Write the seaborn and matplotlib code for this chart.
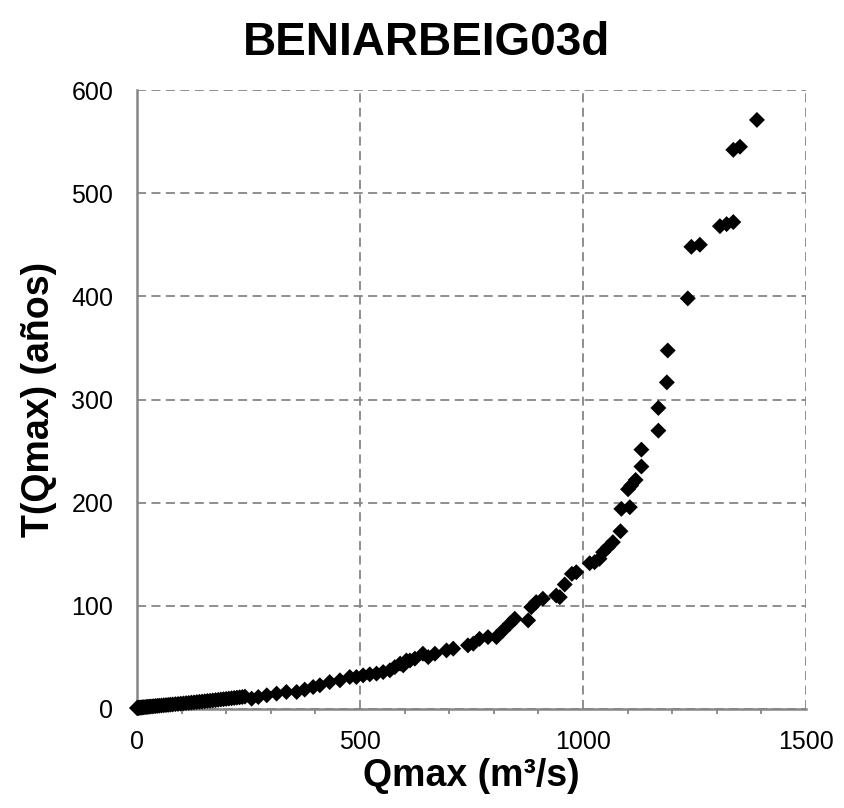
import matplotlib
matplotlib.use("Agg")
import matplotlib.pyplot as plt
from matplotlib.ticker import MultipleLocator
import seaborn as sns
import pandas as pd

# Peak discharge (m3/s) and its return period (years)
qmax = [0, 1, 2, 3, 5, 7, 9, 11, 13, 15, 18, 21, 24, 27, 30, 34, 38, 42, 46, 50,
        55, 60, 65, 70, 75, 80, 86, 92, 98, 104, 110, 116, 122, 128, 134, 140,
        146, 152, 158, 164, 170, 176, 182, 188, 194, 200, 206, 212, 218, 224,
        230, 236, 242, 257, 272, 291, 313, 335, 358, 376, 395, 410, 432, 455,
        477, 492, 507, 522, 537, 552, 567, 578, 590, 597, 604, 612, 623, 641,
        653, 668, 694, 709, 742, 754, 768, 787, 806, 821, 836, 847, 877, 884,
        895, 910, 940, 948, 959, 975, 985, 1015, 1026, 1037, 1045, 1056, 1067,
        1084, 1086, 1101, 1105, 1108, 1118, 1131, 1131, 1169, 1169, 1188, 1190,
        1235, 1243, 1262, 1307, 1322, 1337, 1337, 1352, 1390]
t_years = [1.0, 1.0, 1.1, 1.1, 1.2, 1.3, 1.4, 1.5, 1.6, 1.7, 1.8, 2.0, 2.1, 2.2,
           2.4, 2.5, 2.7, 2.9, 3.0, 3.2, 3.4, 3.6, 3.8, 4.0, 4.2, 4.4, 4.7, 4.9,
           5.2, 5.4, 5.7, 5.9, 6.2, 6.4, 6.7, 7.0, 7.2, 7.5, 7.8, 8.0, 8.3, 8.6,
           8.9, 9.2, 9.5, 9.8, 10.1, 10.4, 10.7, 11.0, 11.3, 11.6, 12.0, 10.0,
           11.6, 13.3, 14.9, 16.5, 16.5, 18.8, 21.3, 23.0, 26.1, 27.8, 31.0,
           31.0, 32.6, 33.6, 34.3, 35.8, 37.5, 40.6, 44.0, 42.3, 47.0, 47.0,
           48.8, 53.6, 50.3, 53.6, 56.8, 58.5, 61.7, 63.3, 68.0, 69.7, 69.7,
           76.2, 82.7, 87.5, 85.9, 98.7, 103.6, 106.9, 110.0, 108.4, 120.7,
           131.0, 132.6, 141.3, 142.3, 145.6, 152.0, 156.8, 161.7, 172.3, 194.0,
           213.0, 195.6, 216.6, 222.0, 235.0, 251.4, 269.8, 291.8, 316.6, 347.5,
           398.0, 448.0, 450.0, 468.0, 470.0, 472.0, 542.0, 545.0, 571.0]

x_ticks = [0, 500, 1000, 1500]
y_ticks = [0, 100, 200, 300, 400, 500, 600]

df = pd.DataFrame({"Qmax": qmax, "T": t_years})

sns.set_theme(style="white")
plt.rcParams["font.family"] = ["Liberation Sans", "DejaVu Sans"]
plt.rcParams["text.color"] = "black"
plt.rcParams["axes.labelcolor"] = "black"

grey = "#868686"
fig = plt.figure(figsize=(8.44, 8.08), dpi=100)
ax = fig.add_axes([137 / 844, 1 - 709 / 808, 669 / 844, 619 / 808])

sns.scatterplot(data=df, x="Qmax", y="T", marker="D", s=66, color="black",
                edgecolor="none", linewidth=0, ax=ax, clip_on=False, zorder=3)

ax.set_xlim(0, 1500)
ax.set_ylim(0, 600)
ax.set_xticks(x_ticks)
ax.set_yticks(y_ticks)
ax.xaxis.set_minor_locator(MultipleLocator(100))

ax.grid(True, which="major", color=grey, linestyle=(0, (5, 3)), linewidth=1.3)
ax.set_axisbelow(True)

for side in ("top", "right"):
    ax.spines[side].set_visible(False)
for side in ("left", "bottom"):
    ax.spines[side].set_color(grey)
    ax.spines[side].set_linewidth(1.8)
    ax.spines[side].set_zorder(2.5)

ax.tick_params(axis="both", which="major", direction="out", length=6,
               width=1.4, color=grey, labelsize=18, labelcolor="black")
ax.tick_params(axis="y", which="major", pad=11)
ax.tick_params(axis="x", which="major", pad=9)
ax.tick_params(axis="x", which="minor", direction="out", length=3.5,
               width=1.3, color=grey, bottom=True)

ax.set_xlabel("Qmax (m³/s)", fontsize=27, fontweight="bold", labelpad=3)
ax.set_ylabel("T(Qmax) (años)", fontsize=27, fontweight="bold", labelpad=10)

fig.suptitle("BENIARBEIG03d", x=0.505, y=0.974, fontsize=33,
             fontweight="bold", va="top", color="black")

fig.savefig("out.png", dpi=100, facecolor="white")
